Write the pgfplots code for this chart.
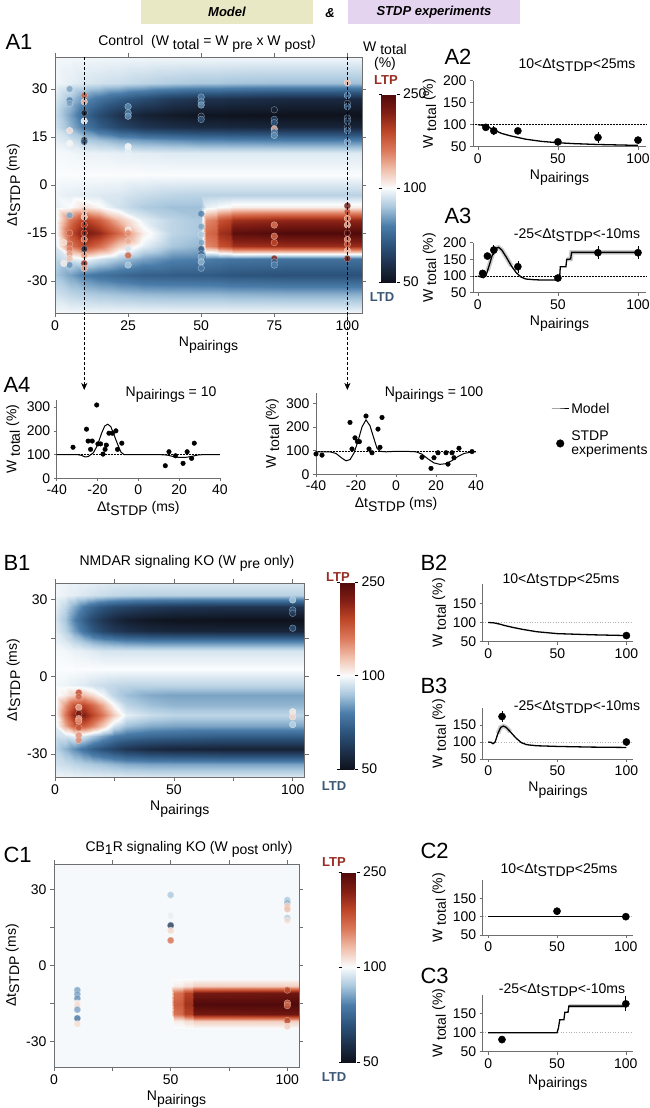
\documentclass[border=0pt]{standalone}
\usepackage{fontspec}
\setmainfont{Liberation Sans}
\usepackage{pgfplots}
\pgfplotsset{compat=1.18}
\usetikzlibrary{arrows.meta}

\definecolor{modelbox}{RGB}{232,233,196}
\definecolor{stdpbox}{RGB}{228,212,240}
\definecolor{ltp}{RGB}{150,45,35}
\definecolor{ltd}{RGB}{60,88,118}
\definecolor{spine}{RGB}{110,110,110}

\newcommand{\fs}[1]{\fontsize{#1}{#1}\selectfont}
\newcommand{\lo}[1]{\raisebox{-0.45ex}{#1}}

\pgfplotsset{
  colormap={wmap}{rgb255=(14,18,28) rgb255=(30,50,78) rgb255=(45,85,125) rgb255=(75,125,170) rgb255=(170,200,222) rgb255=(250,252,253) rgb255=(240,190,170) rgb255=(220,120,90) rgb255=(190,70,40) rgb255=(130,30,20) rgb255=(80,10,10)},
  heat/.style={scale only axis, enlargelimits=false, axis on top,
    xmin=0, xmax=105, ymin=-40, ymax=40,
    xtick={0,25,50,75,100}, ytick={-30,-15,0,15,30},
    tick align=outside, major tick length=4pt,
    axis line style={draw=spine, line width=0.6pt}, tick style={draw=spine, line width=0.6pt},
    ticklabel style={font=\fs{14}}, label style={font=\fs{14}},
    /pgf/number format/assume math mode=true,
    colormap name=wmap, point meta min=-1, point meta max=1,
    xlabel={N\lo{pairings}}, ylabel={Δt\lo{STDP} (ms)}},
  cbar/.style n args={3}{colorbar, colorbar style={at={(parent axis.north east)}, anchor=north west,
    xshift=#1, yshift=#2, width=15pt, height=#3, scale only axis,
    ytick={-1,0,1}, yticklabels={50,100,250}, tick align=outside, major tick length=3pt,
    axis line style={draw=none}, ytick style={draw=black, line width=0.6pt},
    yticklabel style={font=\fs{14}}}},
  dots/.style={scatter, only marks, mark=*, mark size=3.3pt, point meta=explicit,
    scatter/use mapped color={draw=white!55!mapped color, fill=mapped color}, opacity=0.8},
  lp/.style={scale only axis, axis lines*=left,
    axis line style={draw=spine, line width=0.6pt}, tick style={draw=spine, line width=0.6pt},
    tick align=outside, major tick length=3pt,
    ticklabel style={font=\fs{14}}, label style={font=\fs{14}},
    /pgf/number format/assume math mode=true, clip=false,
    ylabel={W \lo{total} (\%)}},
  model/.style={black, line width=1.3pt, no marks},
  band/.style={gray!40, line width=4.5pt, no marks, forget plot},
  ref/.style={black, densely dotted, line width=0.5pt, no marks, forget plot},
  refg/.style={gray!60, dotted, line width=0.6pt, no marks, forget plot},
  exp/.style={only marks, mark=*, mark size=3.6pt, black, error bars/.cd, y dir=both, y explicit,
    error mark=none, error bar style={line width=0.7pt, black}},
  expsmall/.style={only marks, mark=*, mark size=2.3pt, black},
}

\begin{document}
\begin{tikzpicture}[x=1pt,y=1pt]
\useasboundingbox (0,0) rectangle (649,-1108);

% header
\node[fill=modelbox, minimum width=172pt, minimum height=24pt, inner sep=0pt] at (227,-12) {\fs{13}\bfseries\itshape Model};
\node at (330,-13) {\fs{13}\bfseries\itshape \&};
\node[fill=stdpbox, minimum width=172pt, minimum height=24pt, inner sep=0pt] at (434,-12) {\fs{13}\bfseries\itshape STDP experiments};

% ---------------- A1 heatmap
\begin{axis}[heat, at={(55pt,-313pt)}, anchor=south west, width=307pt, height=256pt,
  cbar={11pt}{-37pt}{188pt}]
\addplot[surf, shader=interp, mesh/cols=15, point meta=explicit] coordinates {
(0,-40)[-0.02] (5,-40)[-0.02] (10,-40)[-0.02] (15,-40)[-0.02] (22,-40)[-0.02] (30,-40)[-0.02] (40,-40)[-0.02] (50,-40)[-0.02] (51.5,-40)[-0.02] (55,-40)[-0.02] (56,-40)[-0.02] (60,-40)[-0.02] (61,-40)[-0.02] (80,-40)[-0.02] (105,-40)[-0.02]
(0,-34)[-0.10] (5,-34)[-0.15] (10,-34)[-0.18] (15,-34)[-0.20] (22,-34)[-0.22] (30,-34)[-0.24] (40,-34)[-0.25] (50,-34)[-0.25] (51.5,-34)[-0.25] (55,-34)[-0.25] (56,-34)[-0.25] (60,-34)[-0.26] (61,-34)[-0.26] (80,-34)[-0.27] (105,-34)[-0.27]
(0,-28)[-0.20] (5,-28)[-0.30] (10,-28)[-0.40] (15,-28)[-0.45] (22,-28)[-0.50] (30,-28)[-0.55] (40,-28)[-0.56] (50,-28)[-0.57] (51.5,-28)[-0.57] (55,-28)[-0.58] (56,-28)[-0.58] (60,-28)[-0.60] (61,-28)[-0.60] (80,-28)[-0.62] (105,-28)[-0.62]
(0,-23)[-0.15] (5,-23)[-0.08] (10,-23)[-0.02] (15,-23)[-0.10] (22,-23)[-0.20] (30,-23)[-0.30] (40,-23)[-0.38] (50,-23)[-0.40] (51.5,-23)[-0.40] (55,-23)[-0.42] (56,-23)[-0.42] (60,-23)[-0.44] (61,-23)[-0.44] (80,-23)[-0.46] (105,-23)[-0.46]
(0,-19)[-0.08] (5,-19)[0.40] (10,-19)[0.60] (15,-19)[0.45] (22,-19)[0.15] (30,-19)[-0.05] (40,-19)[-0.20] (50,-19)[-0.25] (51.5,-19)[0.35] (55,-19)[0.40] (56,-19)[0.55] (60,-19)[0.60] (61,-19)[0.70] (80,-19)[0.72] (105,-19)[0.72]
(0,-15)[-0.05] (5,-15)[0.55] (10,-15)[0.85] (15,-15)[0.75] (22,-15)[0.45] (30,-15)[0.05] (40,-15)[-0.15] (50,-15)[-0.20] (51.5,-15)[0.45] (55,-15)[0.50] (56,-15)[0.70] (60,-15)[0.75] (61,-15)[0.95] (80,-15)[1.00] (105,-15)[1.00]
(0,-11)[-0.05] (5,-11)[0.40] (10,-11)[0.65] (15,-11)[0.50] (22,-11)[0.20] (30,-11)[-0.05] (40,-11)[-0.15] (50,-11)[-0.20] (51.5,-11)[0.35] (55,-11)[0.40] (56,-11)[0.55] (60,-11)[0.60] (61,-11)[0.70] (80,-11)[0.75] (105,-11)[0.75]
(0,-7)[-0.05] (5,-7)[0.00] (10,-7)[0.10] (15,-7)[0.02] (22,-7)[-0.10] (30,-7)[-0.18] (40,-7)[-0.22] (50,-7)[-0.22] (51.5,-7)[-0.05] (55,-7)[-0.02] (56,-7)[0.00] (60,-7)[0.02] (61,-7)[0.05] (80,-7)[0.05] (105,-7)[0.05]
(0,-3)[-0.03] (5,-3)[-0.05] (10,-3)[-0.06] (15,-3)[-0.07] (22,-3)[-0.08] (30,-3)[-0.12] (40,-3)[-0.15] (50,-3)[-0.16] (51.5,-3)[-0.16] (55,-3)[-0.16] (56,-3)[-0.16] (60,-3)[-0.16] (61,-3)[-0.16] (80,-3)[-0.16] (105,-3)[-0.16]
(0,3)[0.00] (5,3)[0.00] (10,3)[0.00] (15,3)[0.00] (22,3)[0.00] (30,3)[0.00] (40,3)[0.00] (50,3)[0.00] (51.5,3)[0.00] (55,3)[0.00] (56,3)[0.00] (60,3)[0.00] (61,3)[0.00] (80,3)[0.00] (105,3)[0.00]
(0,10)[-0.01] (5,10)[-0.02] (10,10)[-0.04] (15,10)[-0.04] (22,10)[-0.05] (30,10)[-0.06] (40,10)[-0.07] (50,10)[-0.07] (51.5,10)[-0.07] (55,10)[-0.07] (56,10)[-0.07] (60,10)[-0.07] (61,10)[-0.07] (80,10)[-0.07] (105,10)[-0.07]
(0,14)[-0.05] (5,14)[-0.10] (10,14)[-0.18] (15,14)[-0.22] (22,14)[-0.28] (30,14)[-0.32] (40,14)[-0.35] (50,14)[-0.38] (51.5,14)[-0.38] (55,14)[-0.38] (56,14)[-0.38] (60,14)[-0.39] (61,14)[-0.39] (80,14)[-0.40] (105,14)[-0.40]
(0,18)[-0.10] (5,18)[-0.25] (10,18)[-0.42] (15,18)[-0.55] (22,18)[-0.68] (30,18)[-0.78] (40,18)[-0.82] (50,18)[-0.85] (51.5,18)[-0.85] (55,18)[-0.85] (56,18)[-0.85] (60,18)[-0.86] (61,18)[-0.86] (80,18)[-0.88] (105,18)[-0.88]
(0,22)[-0.12] (5,22)[-0.30] (10,22)[-0.50] (15,22)[-0.65] (22,22)[-0.80] (30,22)[-0.90] (40,22)[-0.95] (50,22)[-0.98] (51.5,22)[-0.98] (55,22)[-0.98] (56,22)[-0.98] (60,22)[-0.99] (61,22)[-0.99] (80,22)[-1.00] (105,22)[-1.00]
(0,27)[-0.08] (5,27)[-0.20] (10,27)[-0.35] (15,27)[-0.45] (22,27)[-0.55] (30,27)[-0.65] (40,27)[-0.75] (50,27)[-0.80] (51.5,27)[-0.80] (55,27)[-0.80] (56,27)[-0.80] (60,27)[-0.82] (61,27)[-0.82] (80,27)[-0.85] (105,27)[-0.85]
(0,32)[-0.02] (5,32)[-0.05] (10,32)[-0.08] (15,32)[-0.10] (22,32)[-0.12] (30,32)[-0.15] (40,32)[-0.18] (50,32)[-0.20] (51.5,32)[-0.20] (55,32)[-0.20] (56,32)[-0.20] (60,32)[-0.21] (61,32)[-0.21] (80,32)[-0.22] (105,32)[-0.22]
(0,40)[-0.02] (5,40)[-0.02] (10,40)[-0.02] (15,40)[-0.02] (22,40)[-0.02] (30,40)[-0.02] (40,40)[-0.02] (50,40)[-0.02] (51.5,40)[-0.02] (55,40)[-0.02] (56,40)[-0.02] (60,40)[-0.02] (61,40)[-0.02] (80,40)[-0.02] (105,40)[-0.02]
};
\addplot[dots] coordinates {
(5,30)[-0.3] (5,26.5)[-0.4] (5,25.5)[-0.3] (5,17)[0.08] (5,13)[0.02] (5,-9.5)[-0.3] (5,-15)[0.5] (5,-18.5)[0.45] (5,-20)[0.4] (5,-21.5)[0.3] (5,-23)[0.2] (5,-25)[-0.35] (3,-18)[0.1] (3,-24.5)[0.05]
(10,28)[0.5] (10,26)[0.2] (10,22.5)[-0.9] (10,20)[0.0] (10,14)[-0.85] (10,13.5)[-0.6] (10,-8)[0.2] (10,-10)[0.15] (10,-12.5)[0.6] (10,-15)[0.7] (10,-17)[0.35] (10,-20)[-0.85] (10,-22)[0.3] (10,-24.5)[0.75] (10,-26)[0.3]
(25,24.5)[-0.35] (25,22.5)[-0.4] (25,21.5)[-0.35] (25,12)[0.0] (25,10.5)[-0.05] (25,-14)[0.05] (25,-15)[0.35] (25,-17.5)[0.25] (25,-20)[-0.1] (25,-22)[0.5] (25,-25)[-0.2]
(50,27.5)[-0.4] (50,26)[-0.45] (50,25)[-0.35] (50,21.5)[-0.85] (50,20.5)[-0.6] (50,-9)[-0.4] (50,-13)[-0.3] (50,-15.5)[-0.2] (50,-18)[-0.3] (50,-20)[-0.6] (50,-21.5)[-0.5] (50,-22.5)[-0.3] (50,-24)[-0.25] (50,-26)[-0.4]
(75,23.5)[-0.9] (75,20.5)[-0.7] (75,19.5)[-0.6] (75,17.5)[0.2] (75,16.5)[-0.5] (75,15.5)[-0.35] (75,-12.5)[0.4] (75,-16)[0.45] (75,-18)[0.6] (75,-23)[0.8] (75,-24)[-0.5] (75,-25)[-0.4]
(100,32)[0.2] (100,28)[-0.4] (100,25.5)[-0.9] (100,24.5)[-0.5] (100,21)[-0.8] (100,20)[-0.7] (100,18)[-0.9] (100,17)[-0.5] (100,13.5)[-0.3] (100,-6.5)[0.9] (100,-8.5)[0.6] (100,-10.5)[0.3] (100,-12.5)[0.2] (100,-15)[0.95] (100,-17)[0.3] (100,-18.5)[0.5] (100,-20.5)[0.2] (100,-23)[0.85] (100,-37)[-0.2]
};
\coordinate (d10) at (axis cs:10,40);
\coordinate (d100) at (axis cs:100,40);
\end{axis}
\draw[densely dashed, line width=0.6pt, -{Stealth[length=7pt,width=6pt,inset=2pt]}] (d10) -- (d10 |- 0,-390);
\draw[densely dashed, line width=0.6pt, -{Stealth[length=7pt,width=6pt,inset=2pt]}] (d100) -- (d100 |- 0,-390);

% ---------------- A2
\begin{axis}[lp, at={(473pt,-146.7pt)}, anchor=south west, width=173pt, height=66pt,
  xmin=-3, xmax=105, ymin=50, ymax=200, xtick={0,50,100}, ytick={50,100,150,200},
  xlabel={N\lo{pairings}}]
\addplot[ref] coordinates {(-3,100) (105,100)};
\addplot[model] coordinates {(0,100) (5,98) (10,88) (15,80) (20,75) (25,71) (30,67) (40,62) (50,59) (60,57) (75,55) (100,53)};
\addplot[exp] coordinates {(5,94) +- (0,7) (10,86) +- (0,10) (25,86) +- (0,3) (50,61) +- (0,5) (75,71) +- (0,12) (100,65) +- (0,8)};
\end{axis}

% ---------------- A3
\begin{axis}[lp, at={(473pt,-292.7pt)}, anchor=south west, width=173pt, height=50pt,
  xmin=-3, xmax=105, ymin=50, ymax=200, xtick={0,50,100}, ytick={50,100,150,200},
  xlabel={N\lo{pairings}}]
\addplot[ref] coordinates {(-3,100) (105,100)};
\addplot[band] coordinates {(6,115) (7,130) (9,162) (11,182) (13,186) (15,178) (18,155) (21,130)};
\addplot[band] coordinates {(55.5,150) (58,151) (58.5,171) (60,171) (100,171)};
\addplot[model] coordinates {(0,100) (2,97) (3.5,95) (5,100) (7,130) (9,162) (11,182) (13,186) (15,178) (18,155) (21,130) (24,110) (27,97) (30,91) (35,89) (40,88) (50,88) (51,88) (51.5,128) (55,128) (55.5,150) (58,151) (58.5,171) (100,171)};
\addplot[exp] coordinates {(3,108) +- (0,4) (6,160) +- (0,8) (10,178) +- (0,14) (25,128) +- (0,18) (50,94) +- (0,6) (75,170) +- (0,20) (100,170) +- (0,20)};
\end{axis}

% ---------------- A4 left
\begin{axis}[lp, at={(56.7pt,-478.3pt)}, anchor=south west, width=163.3pt, height=78.3pt,
  xmin=-40, xmax=40, ymin=0, ymax=330, xtick={-40,-20,0,20,40}, ytick={0,100,200,300},
  xlabel={Δt\lo{STDP} (ms)}]
\addplot[ref] coordinates {(-40,100) (40,100)};
\addplot[model, line width=1pt] coordinates {(-40,100) (-30,100) (-28,97) (-26,90) (-24.5,92) (-22,108) (-20,140) (-18,190) (-16.5,220) (-15,228) (-13.5,218) (-12,185) (-10,140) (-8.5,110) (-7,100) (10,100) (14,98) (17,92) (20,88) (23,88) (26,92) (29,98) (32,100) (40,100)};
\addplot[expsmall] coordinates {(-32,131) (-25.4,207) (-24.6,157) (-22.6,157) (-23.4,122) (-20.4,309) (-19.8,145) (-18.5,145) (-17.3,102) (-16.3,122) (-15.7,140) (-14.4,190) (-12.7,190) (-11,200) (-10.2,122) (-8.1,148) (13.2,53) (15,112) (18.2,95) (21.9,63) (23.9,112) (26.1,84) (27.4,148)};
\end{axis}

% ---------------- A4 right
\begin{axis}[lp, at={(316pt,-474.3pt)}, anchor=south west, width=160pt, height=81pt,
  xmin=-40, xmax=40, ymin=0, ymax=342, xtick={-40,-20,0,20,40}, ytick={0,100,200,300},
  xlabel={Δt\lo{STDP} (ms)},
  legend image post style={mark size=3.8pt},
  legend style={at={(1.45,0.93)}, anchor=north west, draw=none, fill=none, font=\fs{14},
    cells={anchor=west, align=left}, row sep=12pt}]
\addplot[ref] coordinates {(-40,97) (40,97)};
\addplot[model, line width=1pt] coordinates {(-40,95) (-33,95) (-30,88) (-27,68) (-25,57) (-23,62) (-21,90) (-19,140) (-17,200) (-15,230) (-13,205) (-11,150) (-9.5,110) (-8,97) (-5,95) (0,97) (5,97) (10,95) (13,85) (16,65) (19,48) (22,42) (25,45) (28,58) (31,75) (34,88) (37,93) (40,95)};
\addlegendentry{Model}
\addplot[expsmall] coordinates {(-40,86) (-37,81) (-23,219) (-22,107) (-20.5,154) (-19.3,138) (-18.3,138) (-15,246) (-13.5,107) (-12,91) (-9,191) (-8,114) (-7,240) (13,72) (17.5,25) (19,70) (21,91) (25,91) (26,43) (28,91) (29,70) (31.5,110) (38,96)};
\addlegendentry{STDP\\experiments}
\end{axis}

% ---------------- B1 heatmap
\begin{axis}[heat, at={(55pt,-777pt)}, anchor=south west, width=249.6pt, height=194pt,
  ymin=-39, ymax=36.5, xticklabels={0,,50,,100}, yticklabels={-30,,0,,30},
  cbar={27pt}{1pt}{187pt}]
\addplot[surf, shader=interp, mesh/cols=12, point meta=explicit] coordinates {
(0,-40)[-0.02] (4,-40)[-0.02] (8,-40)[-0.02] (12,-40)[-0.02] (16,-40)[-0.02] (20,-40)[-0.02] (25,-40)[-0.02] (30,-40)[-0.02] (40,-40)[-0.02] (50,-40)[-0.02] (70,-40)[-0.02] (105,-40)[-0.02]
(0,-34)[-0.10] (4,-34)[-0.12] (8,-34)[-0.15] (12,-34)[-0.18] (16,-34)[-0.20] (20,-34)[-0.22] (25,-34)[-0.25] (30,-34)[-0.28] (40,-34)[-0.30] (50,-34)[-0.30] (70,-34)[-0.30] (105,-34)[-0.30]
(0,-28)[-0.15] (4,-28)[-0.25] (8,-28)[-0.35] (12,-28)[-0.45] (16,-28)[-0.55] (20,-28)[-0.62] (25,-28)[-0.70] (30,-28)[-0.78] (40,-28)[-0.85] (50,-28)[-0.88] (70,-28)[-0.90] (105,-28)[-0.90]
(0,-23)[-0.10] (4,-23)[-0.10] (8,-23)[-0.05] (12,-23)[-0.10] (16,-23)[-0.20] (20,-23)[-0.30] (25,-23)[-0.40] (30,-23)[-0.45] (40,-23)[-0.50] (50,-23)[-0.52] (70,-23)[-0.55] (105,-23)[-0.55]
(0,-19)[-0.05] (4,-19)[0.25] (8,-19)[0.50] (12,-19)[0.50] (16,-19)[0.35] (20,-19)[0.15] (25,-19)[-0.10] (30,-19)[-0.22] (40,-19)[-0.28] (50,-19)[-0.30] (70,-19)[-0.30] (105,-19)[-0.30]
(0,-15)[-0.03] (4,-15)[0.40] (8,-15)[0.75] (12,-15)[0.80] (16,-15)[0.60] (20,-15)[0.40] (25,-15)[0.15] (30,-15)[-0.05] (40,-15)[-0.12] (50,-15)[-0.15] (70,-15)[-0.15] (105,-15)[-0.15]
(0,-11)[-0.03] (4,-11)[0.30] (8,-11)[0.55] (12,-11)[0.60] (16,-11)[0.45] (20,-11)[0.25] (25,-11)[0.00] (30,-11)[-0.15] (40,-11)[-0.22] (50,-11)[-0.25] (70,-11)[-0.25] (105,-11)[-0.25]
(0,-7)[-0.03] (4,-7)[0.05] (8,-7)[0.15] (12,-7)[0.20] (16,-7)[0.10] (20,-7)[-0.02] (25,-7)[-0.15] (30,-7)[-0.22] (40,-7)[-0.28] (50,-7)[-0.30] (70,-7)[-0.30] (105,-7)[-0.30]
(0,-3)[-0.02] (4,-3)[-0.03] (8,-3)[-0.05] (12,-3)[-0.07] (16,-3)[-0.10] (20,-3)[-0.12] (25,-3)[-0.14] (30,-3)[-0.15] (40,-3)[-0.15] (50,-3)[-0.15] (70,-3)[-0.15] (105,-3)[-0.15]
(0,3)[0.00] (4,3)[0.00] (8,3)[0.00] (12,3)[0.00] (16,3)[0.00] (20,3)[0.00] (25,3)[0.00] (30,3)[0.00] (40,3)[0.00] (50,3)[0.00] (70,3)[0.00] (105,3)[0.00]
(0,10)[-0.01] (4,10)[-0.02] (8,10)[-0.04] (12,10)[-0.05] (16,10)[-0.07] (20,10)[-0.09] (25,10)[-0.09] (30,10)[-0.09] (40,10)[-0.09] (50,10)[-0.09] (70,10)[-0.09] (105,10)[-0.09]
(0,14)[-0.04] (4,14)[-0.08] (8,14)[-0.15] (12,14)[-0.22] (16,14)[-0.28] (20,14)[-0.32] (25,14)[-0.35] (30,14)[-0.38] (40,14)[-0.40] (50,14)[-0.40] (70,14)[-0.40] (105,14)[-0.40]
(0,18)[-0.06] (4,18)[-0.15] (8,18)[-0.30] (12,18)[-0.45] (16,18)[-0.58] (20,18)[-0.68] (25,18)[-0.75] (30,18)[-0.80] (40,18)[-0.85] (50,18)[-0.87] (70,18)[-0.88] (105,18)[-0.88]
(0,22)[-0.08] (4,22)[-0.20] (8,22)[-0.38] (12,22)[-0.55] (16,22)[-0.68] (20,22)[-0.78] (25,22)[-0.86] (30,22)[-0.92] (40,22)[-0.97] (50,22)[-0.99] (70,22)[-1.00] (105,22)[-1.00]
(0,27)[-0.05] (4,27)[-0.14] (8,27)[-0.28] (12,27)[-0.42] (16,27)[-0.52] (20,27)[-0.60] (25,27)[-0.66] (30,27)[-0.70] (40,27)[-0.75] (50,27)[-0.78] (70,27)[-0.80] (105,27)[-0.80]
(0,32)[-0.02] (4,32)[-0.04] (8,32)[-0.06] (12,32)[-0.08] (16,32)[-0.10] (20,32)[-0.12] (25,32)[-0.14] (30,32)[-0.15] (40,32)[-0.16] (50,32)[-0.16] (70,32)[-0.16] (105,32)[-0.16]
(0,40)[-0.02] (4,40)[-0.02] (8,40)[-0.02] (12,40)[-0.02] (16,40)[-0.02] (20,40)[-0.02] (25,40)[-0.02] (30,40)[-0.02] (40,40)[-0.02] (50,40)[-0.02] (70,40)[-0.02] (105,40)[-0.02]
};
\addplot[dots] coordinates {
(10,-6.2)[0.6] (10,-7.8)[0.5] (10,-11.9)[0.25] (10,-14.3)[0.85] (10,-16.3)[0.3] (10,-17.2)[0.35] (10,-19.8)[0.55] (10,-22.8)[0.35] (10,-24.7)[0.35]
(100,29.9)[-0.2] (100,26)[-0.55] (100,24.7)[-0.75] (100,18.9)[-0.6] (100,-13.6)[0.05] (100,-15.6)[0.12] (100,-18.6)[-0.15]
};
\end{axis}

% ---------------- B2
\begin{axis}[lp, at={(482.7pt,-641.7pt)}, anchor=south west, width=150.6pt, height=57.7pt,
  xmin=-4, xmax=105, ymin=50, ymax=200, xtick={0,50,100}, ytick={50,100,150}]
\addplot[refg] coordinates {(-4,100) (105,100)};
\addplot[model] coordinates {(0,100) (4,99) (8,96) (12,92) (18,87) (25,82) (35,76) (50,71) (75,68) (100,66)};
\addplot[exp] coordinates {(100,66) +- (0,10)};
\end{axis}

% ---------------- B3
\begin{axis}[lp, at={(482.7pt,-759pt)}, anchor=south west, width=150.6pt, height=51pt,
  xmin=-4, xmax=105, ymin=50, ymax=200, xtick={0,50,100}, ytick={50,100,150},
  xlabel={N\lo{pairings}}]
\addplot[refg] coordinates {(-4,100) (105,100)};
\addplot[band] coordinates {(7,125) (9,143) (11,147) (13,143) (16,130)};
\addplot[model] coordinates {(0,100) (2,99) (3.5,95) (5,100) (7,125) (9,143) (11,147) (13,143) (16,130) (20,112) (24,98) (28,92) (35,89) (50,87) (75,85) (100,84)};
\addplot[exp] coordinates {(10,175) +- (0,15) (100,100) +- (0,3)};
\end{axis}

% ---------------- C1 heatmap
\begin{axis}[heat, at={(54pt,-1067pt)}, anchor=south west, width=245pt, height=203pt,
  xticklabels={0,,50,,100}, yticklabels={-30,,0,,30},
  cbar={34pt}{-8pt}{190pt}]
\addplot[surf, shader=interp, mesh/cols=8, point meta=explicit] coordinates {
(0,-40)[-0.01] (50,-40)[-0.01] (51.5,-40)[-0.01] (55,-40)[-0.01] (56,-40)[-0.01] (59,-40)[-0.01] (60,-40)[-0.01] (105,-40)[-0.01]
(0,-25)[-0.01] (50,-25)[-0.01] (51.5,-25)[-0.01] (55,-25)[-0.01] (56,-25)[-0.01] (59,-25)[-0.01] (60,-25)[-0.01] (105,-25)[-0.01]
(0,-22)[-0.01] (50,-22)[-0.01] (51.5,-22)[0.05] (55,-22)[0.05] (56,-22)[0.10] (59,-22)[0.10] (60,-22)[0.15] (105,-22)[0.15]
(0,-19)[-0.01] (50,-19)[-0.01] (51.5,-19)[0.42] (55,-19)[0.45] (56,-19)[0.62] (59,-19)[0.62] (60,-19)[0.85] (105,-19)[0.88]
(0,-15)[-0.01] (50,-15)[-0.01] (51.5,-15)[0.50] (55,-15)[0.52] (56,-15)[0.70] (59,-15)[0.70] (60,-15)[1.00] (105,-15)[1.00]
(0,-11)[-0.01] (50,-11)[-0.01] (51.5,-11)[0.42] (55,-11)[0.45] (56,-11)[0.62] (59,-11)[0.62] (60,-11)[0.85] (105,-11)[0.88]
(0,-8)[-0.01] (50,-8)[-0.01] (51.5,-8)[0.05] (55,-8)[0.05] (56,-8)[0.10] (59,-8)[0.10] (60,-8)[0.15] (105,-8)[0.15]
(0,-5)[-0.01] (50,-5)[-0.01] (51.5,-5)[-0.01] (55,-5)[-0.01] (56,-5)[-0.01] (59,-5)[-0.01] (60,-5)[-0.01] (105,-5)[-0.01]
(0,40)[-0.01] (50,40)[-0.01] (51.5,40)[-0.01] (55,40)[-0.01] (56,40)[-0.01] (59,40)[-0.01] (60,40)[-0.01] (105,40)[-0.01]
};
\addplot[dots] coordinates {
(10,-9.7)[-0.3] (10,-11.3)[-0.3] (10,-13)[-0.35] (10,-14.8)[0.05] (10,-15.6)[0.1] (10,-17.4)[-0.3] (10,-20.8)[-0.45] (10,-23)[0.1]
(50,27.8)[-0.2] (50,19.6)[-0.05] (50,15.8)[-0.75] (50,13.8)[0.12] (50,9.9)[0.45]
(100,25.8)[-0.2] (100,24.7)[-0.25] (100,23.5)[0.15] (100,22.2)[0.2] (100,18.7)[-0.2] (100,17.8)[0.1] (100,-9.7)[0.6] (100,-14.8)[0.45] (100,-15.8)[0.5] (100,-21.7)[0.6] (100,-24)[0.15]
};
\end{axis}

% ---------------- C2
\begin{axis}[lp, at={(482.7pt,-935pt)}, anchor=south west, width=150pt, height=55pt,
  xmin=-4, xmax=105, ymin=50, ymax=200, xtick={0,50,100}, ytick={50,100,150}]
\addplot[refg] coordinates {(-4,100) (105,100)};
\addplot[model] coordinates {(0,100) (100,100)};
\addplot[exp] coordinates {(50,115) +- (0,10) (100,100) +- (0,3)};
\end{axis}

% ---------------- C3
\begin{axis}[lp, at={(482.7pt,-1051.7pt)}, anchor=south west, width=150pt, height=57pt,
  xmin=-4, xmax=105, ymin=50, ymax=200, xtick={0,50,100}, ytick={50,100,150},
  xlabel={N\lo{pairings}}]
\addplot[refg] coordinates {(-4,100) (105,100)};
\addplot[band] coordinates {(58.6,170) (100,170)};
\addplot[model] coordinates {(0,100) (50,100) (51,112) (52,134) (55,134) (55.7,154) (58,154) (58.6,170) (100,170)};
\addplot[exp] coordinates {(10,82) +- (0,5) (100,176) +- (0,20)};
\end{axis}

% ---------------- panel labels and titles
\node[anchor=base west, font=\fs{22}] at (2,-49) {A1};
\node[anchor=base, font=\fs{14}] at (207,-46) {Control\ \ (W \lo{total} = W \lo{pre} x W \lo{post})};
\node[font=\fs{14}] at (385,-48) {W \lo{total}};
\node[font=\fs{14}] at (385,-64) {(\%)};
\node[font=\fs{13}\bfseries, text=ltp] at (386,-80) {LTP};
\node[font=\fs{13}\bfseries, text=ltd] at (382,-297) {LTD};
\node[anchor=base west, font=\fs{22}] at (441,-65) {A2};
\node[anchor=base, font=\fs{14}] at (577,-68) {10<Δt\lo{STDP}<25ms};
\node[anchor=base west, font=\fs{22}] at (441,-223) {A3};
\node[anchor=base, font=\fs{14}] at (577,-238) {-25<Δt\lo{STDP}<-10ms};
\node[anchor=base west, font=\fs{22}] at (0,-392) {A4};
\node[anchor=base, font=\fs{14}] at (171,-396) {N\lo{pairings} = 10};
\node[anchor=base, font=\fs{14}] at (434,-396) {N\lo{pairings} = 100};
\node[anchor=base west, font=\fs{22}] at (0,-570) {B1};
\node[anchor=base, font=\fs{14}] at (187,-565) {NMDAR signaling KO (W \lo{pre} only)};
\node[font=\fs{13}\bfseries, text=ltp] at (338,-577) {LTP};
\node[font=\fs{13}\bfseries, text=ltd] at (334,-786) {LTD};
\node[anchor=base west, font=\fs{22}] at (417,-570) {B2};
\node[anchor=base, font=\fs{14}] at (561,-583) {10<Δt\lo{STDP}<25ms};
\node[anchor=base west, font=\fs{22}] at (417,-693) {B3};
\node[anchor=base, font=\fs{14}] at (577,-710) {-25<Δt\lo{STDP}<-10ms};
\node[anchor=base west, font=\fs{22}] at (0,-862) {C1};
\node[anchor=base, font=\fs{14}] at (189,-851) {CB\lo{1}R signaling KO (W \lo{post} only)};
\node[font=\fs{13}\bfseries, text=ltp] at (334,-862) {LTP};
\node[font=\fs{13}\bfseries, text=ltd] at (334,-1077) {LTD};
\node[anchor=base west, font=\fs{22}] at (417,-858) {C2};
\node[anchor=base, font=\fs{14}] at (559,-873) {10<Δt\lo{STDP}<25ms};
\node[anchor=base west, font=\fs{22}] at (417,-983) {C3};
\node[anchor=base, font=\fs{14}] at (562,-993) {-25<Δt\lo{STDP}<-10ms};
\end{tikzpicture}
\end{document}
